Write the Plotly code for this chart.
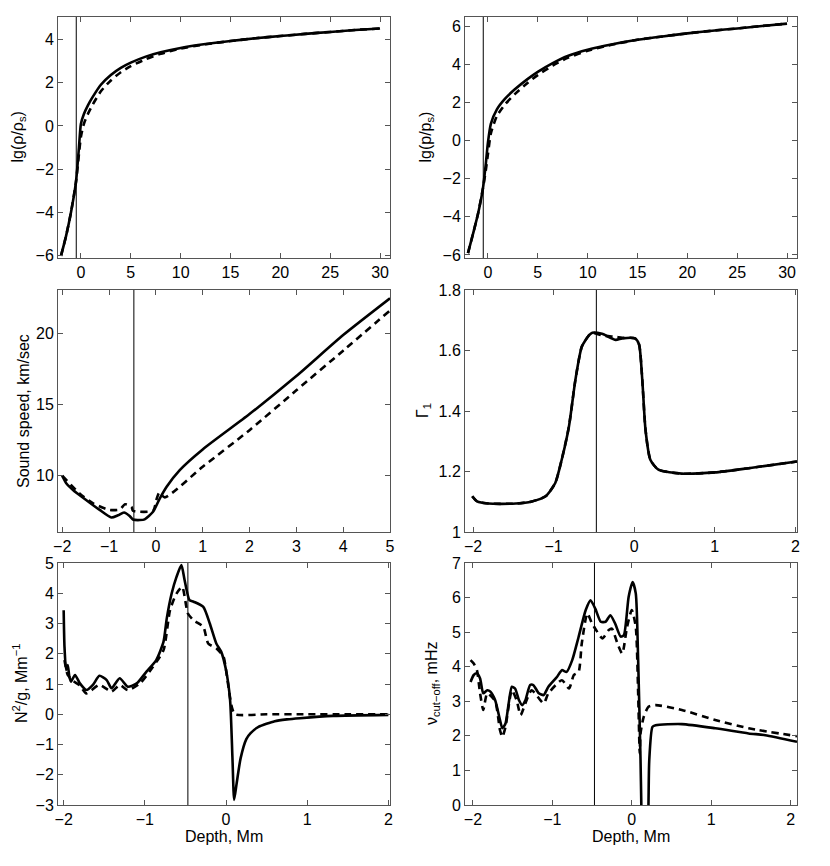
import plotly.graph_objects as go

# depth of the marker line (Mm)
DEPTH_MARK = -0.47

# --- panel 1: lg(rho/rho_s) vs depth ---
rho_x = [-2.0, -1.5, -1.0, -0.5, -0.2, 0.0, 0.3, 0.7, 1.2, 2.0, 3.0, 4.0, 5.0, 6.5, 8, 10, 12.5, 15, 17.5, 20, 22.5, 25, 27.5, 30]
rho_solid = [-6.0, -5.1, -4.0, -2.6, -1.0, 0.1, 0.55, 0.95, 1.35, 1.9, 2.35, 2.68, 2.92, 3.2, 3.4, 3.6, 3.78, 3.92, 4.05, 4.15, 4.25, 4.34, 4.43, 4.5]
rho_dash = [-6.0, -5.1, -4.0, -2.6, -1.3, -0.5, 0.1, 0.55, 1.0, 1.6, 2.1, 2.48, 2.76, 3.08, 3.33, 3.57, 3.77, 3.92, 4.05, 4.15, 4.25, 4.34, 4.43, 4.5]

# --- panel 2: lg(p/p_s) vs depth ---
p_x = [-2.0, -1.5, -1.0, -0.5, -0.2, 0.0, 0.3, 0.9, 1.7, 2.7, 4.0, 5.0, 6.5, 8, 10, 12.5, 15, 17.5, 20, 22.5, 25, 27.5, 30]
p_solid = [-5.9, -4.9, -3.85, -2.5, -1.15, -0.1, 0.9, 1.65, 2.2, 2.7, 3.25, 3.62, 4.08, 4.45, 4.78, 5.07, 5.3, 5.48, 5.64, 5.78, 5.9, 6.03, 6.15]
p_dash = [-5.9, -4.9, -3.85, -2.5, -1.5, -0.7, 0.4, 1.3, 1.9, 2.45, 3.05, 3.45, 3.95, 4.35, 4.73, 5.05, 5.3, 5.48, 5.64, 5.78, 5.9, 6.03, 6.15]

# --- panel 3: sound speed, km/sec ---
c_x_solid = [-2.0, -1.91, -1.77, -1.49, -1.2, -0.95, -0.81, -0.68, -0.56, -0.49, -0.34, -0.24, -0.06, 0.085, 0.23, 0.51, 1.0, 2.0, 3.0, 4.0, 5.0]
c_solid = [10.0, 9.45, 9.0, 8.3, 7.6, 7.07, 7.22, 7.42, 7.17, 6.93, 6.89, 6.94, 7.47, 8.41, 9.23, 10.4, 11.85, 14.33, 17.0, 19.88, 22.46]
c_x_dash = [-2.0, -1.63, -1.34, -0.99, -0.77, -0.66, -0.52, -0.49, -0.06, 0.01, 0.07, 0.19, 1.0, 2.0, 3.0, 4.0, 5.0]
c_dash = [10.0, 8.76, 8.06, 7.6, 7.63, 8.0, 7.82, 7.54, 7.54, 8.3, 8.8, 8.48, 10.63, 13.2, 16.0, 18.78, 21.6]

# --- panel 4: Gamma_1 ---
g_x = [-2.01, -1.95, -1.81, -1.47, -1.27, -1.1, -0.98, -0.9, -0.81, -0.73, -0.65, -0.56, -0.52, -0.4, -0.23, -0.15, 0.01, 0.06, 0.1, 0.14, 0.2, 0.3, 0.59, 1.0, 1.42, 2.02]
g_solid = [1.118, 1.101, 1.094, 1.094, 1.101, 1.118, 1.162, 1.239, 1.349, 1.503, 1.613, 1.651, 1.659, 1.655, 1.635, 1.64, 1.64, 1.62, 1.503, 1.338, 1.239, 1.206, 1.193, 1.197, 1.211, 1.233]
g_dash = [1.118, 1.101, 1.094, 1.094, 1.101, 1.118, 1.162, 1.239, 1.349, 1.503, 1.613, 1.651, 1.659, 1.65, 1.645, 1.642, 1.64, 1.62, 1.503, 1.338, 1.239, 1.206, 1.193, 1.197, 1.211, 1.233]

# --- panel 5: N^2/g ---
n_x_solid = [-2.0, -1.99, -1.97, -1.95, -1.93, -1.91, -1.86, -1.8, -1.72, -1.64, -1.56, -1.47, -1.41, -1.31, -1.21, -1.1, -0.98, -0.86, -0.77, -0.73, -0.67, -0.61, -0.55, -0.51, -0.45, -0.4, -0.28, -0.2, -0.12, -0.06, 0.0, 0.05, 0.08, 0.1, 0.13, 0.18, 0.25, 0.3, 0.4, 0.6, 0.75, 0.91, 1.32, 2.0]
n_solid = [3.44, 2.23, 1.46, 1.63, 1.24, 1.08, 1.3, 1.02, 0.8, 0.97, 1.27, 1.13, 0.86, 1.19, 0.91, 1.02, 1.41, 1.79, 2.4, 3.17, 3.99, 4.54, 4.93, 4.43, 3.77, 3.72, 3.55, 3.0, 2.34, 2.07, 1.46, 0.47, -1.51, -2.83, -2.3, -1.45, -0.82, -0.63, -0.42, -0.23, -0.17, -0.13, -0.055, -0.02]
n_x_dash = [-1.99, -1.95, -1.88, -1.8, -1.72, -1.56, -1.41, -1.31, -1.21, -1.06, -0.9, -0.77, -0.69, -0.61, -0.54, -0.47, -0.4, -0.28, -0.22, -0.12, -0.03, 0.0, 0.07, 0.11, 0.5, 1.0, 1.5, 2.0]
n_dash = [1.79, 1.3, 1.1, 0.95, 0.69, 0.97, 0.75, 0.97, 0.8, 1.02, 1.57, 2.12, 3.44, 3.99, 4.21, 3.33, 3.11, 2.89, 2.34, 2.18, 1.9, 1.46, 0.25, 0.0, 0.0, 0.0, 0.0, 0.0]

# --- panel 6: cut-off frequency, mHz ---
v_x_solid = [-2.03, -1.99, -1.95, -1.91, -1.87, -1.82, -1.78, -1.72, -1.66, -1.63, -1.59, -1.55, -1.51, -1.47, -1.42, -1.38, -1.34, -1.28, -1.24, -1.17, -1.11, -1.05, -0.94, -0.88, -0.82, -0.75, -0.67, -0.58, -0.52, -0.46, -0.39, -0.33, -0.27, -0.21, -0.14, -0.1, -0.04, 0.01, 0.05, 0.08, 0.11, 0.12, 0.13, 0.2, 0.21, 0.22, 0.26, 0.3, 0.63, 1.05, 1.47, 1.68, 2.08]
v_solid = [3.56, 3.76, 3.81, 3.66, 3.23, 3.32, 3.28, 3.03, 2.46, 2.22, 2.36, 2.94, 3.42, 3.37, 3.03, 2.89, 3.03, 3.47, 3.47, 3.23, 3.18, 3.42, 3.71, 3.9, 3.85, 4.19, 4.86, 5.64, 5.92, 5.68, 5.3, 5.3, 5.49, 5.25, 4.87, 4.91, 6.02, 6.45, 6.12, 4.19, 1.3, 0.0, -1.0, -1.0, 0.0, 1.3, 2.26, 2.31, 2.34, 2.22, 2.07, 2.02, 1.83]
v_x_dash = [-2.03, -1.99, -1.95, -1.91, -1.87, -1.82, -1.72, -1.66, -1.63, -1.59, -1.51, -1.45, -1.4, -1.34, -1.26, -1.11, -1.05, -0.88, -0.79, -0.73, -0.67, -0.63, -0.56, -0.5, -0.46, -0.37, -0.29, -0.25, -0.18, -0.12, -0.06, 0.0, 0.05, 0.08, 0.1, 0.11, 0.15, 0.21, 0.3, 0.63, 1.05, 1.47, 2.08]
v_dash = [4.19, 4.09, 3.9, 3.23, 2.75, 3.23, 3.0, 2.17, 1.97, 2.26, 3.32, 3.03, 2.6, 2.94, 3.32, 2.94, 3.23, 3.61, 3.37, 3.76, 3.85, 4.67, 5.54, 5.25, 5.1, 4.82, 5.06, 5.1, 4.67, 4.38, 5.15, 5.64, 5.15, 3.23, 1.49, 2.07, 2.55, 2.84, 2.89, 2.75, 2.46, 2.22, 1.99]

FONT = "Liberation Sans, Arial, Helvetica, sans-serif"
PAGE_OFF = 8          # the page body margin pushes the plot 8px right and down
W, H = 830 - PAGE_OFF, 866 - PAGE_OFF
LINE_W = 2.6

# pixel boxes of each panel, in page pixels
cols = [(58, 390), (465, 797)]
rows = [(17, 258), (290, 532), (563, 805)]


def px_x(v):
    return (v - PAGE_OFF) / W


def px_y(v):
    return 1 - (v - PAGE_OFF) / H


panels = [
    dict(x=[(rho_x, rho_solid), (rho_x, rho_dash)], xr=[-2.3, 31], yr=[-6.1, 5.03],
         xt=[0, 5, 10, 15, 20, 25, 30], yt=[-6, -4, -2, 0, 2, 4], ytitle="lg(ρ/ρ<sub>s</sub>)", tx=18, xtitle=None),
    dict(x=[(p_x, p_solid), (p_x, p_dash)], xr=[-2.3, 31], yr=[-6.16, 6.5],
         xt=[0, 5, 10, 15, 20, 25, 30], yt=[-6, -4, -2, 0, 2, 4, 6], ytitle="lg(p/p<sub>s</sub>)", tx=426, xtitle=None),
    dict(x=[(c_x_solid, c_solid), (c_x_dash, c_dash)], xr=[-2.09, 5], yr=[6.05, 23.04],
         xt=[-2, -1, 0, 1, 2, 3, 4, 5], yt=[10, 15, 20], ytitle="Sound speed, km/sec", tx=23, xtitle=None),
    dict(x=[(g_x, g_solid), (g_x, g_dash)], xr=[-2.1, 2.02], yr=[1.0, 1.8],
         xt=[-2, -1, 0, 1, 2], yt=[1, 1.2, 1.4, 1.6, 1.8], ytitle="Γ<sub>1</sub>", tx=423, xtitle=None),
    dict(x=[(n_x_solid, n_solid), (n_x_dash, n_dash)], xr=[-2.07, 2.02], yr=[-3, 5],
         xt=[-2, -1, 0, 1, 2], yt=[-3, -2, -1, 0, 1, 2, 3, 4, 5], ytitle="N<sup>2</sup>/g, Mm<sup>−1</sup>", tx=20, xtitle="Depth, Mm"),
    dict(x=[(v_x_solid, v_solid), (v_x_dash, v_dash)], xr=[-2.1, 2.08], yr=[0, 7],
         xt=[-2, -1, 0, 1, 2], yt=[0, 1, 2, 3, 4, 5, 6, 7], ytitle="ν<sub>cut−off</sub>, mHz", tx=432, xtitle="Depth, Mm"),
]

fig = go.Figure()
layout = {}
notes = []
for i, p in enumerate(panels):
    n = i + 1
    sfx = "" if n == 1 else str(n)
    left, right = cols[i % 2]
    top, bottom = rows[i // 2]
    (xs, ys), (xd, yd) = p["x"]
    fig.add_trace(go.Scatter(x=xs, y=ys, mode="lines", xaxis="x" + sfx, yaxis="y" + sfx,
                             line=dict(color="black", width=LINE_W, shape="spline", smoothing=0.6),
                             showlegend=False, hoverinfo="skip"))
    fig.add_trace(go.Scatter(x=xd, y=yd, mode="lines", xaxis="x" + sfx, yaxis="y" + sfx,
                             line=dict(color="black", width=LINE_W, dash="7px,5px", shape="spline", smoothing=0.6),
                             showlegend=False, hoverinfo="skip"))
    ax = dict(showline=True, mirror="ticks", linecolor="#555555", linewidth=1, ticks="inside",
              ticklen=5, tickcolor="#555555", showgrid=False, zeroline=False, automargin=False,
              tickfont=dict(family=FONT, size=16, color="black"))
    layout["xaxis" + sfx] = dict(ax, domain=[px_x(left), px_x(right)], range=p["xr"], tickvals=p["xt"],
                                 anchor="y" + sfx)
    layout["yaxis" + sfx] = dict(ax, domain=[px_y(bottom), px_y(top)], range=p["yr"], tickvals=p["yt"],
                                 anchor="x" + sfx)
    fig.add_shape(type="line", xref="x" + sfx, yref="y" + sfx + " domain", x0=DEPTH_MARK, x1=DEPTH_MARK,
                  y0=0, y1=1, line=dict(color="black", width=1))
    notes.append(dict(text=p["ytitle"], xref="paper", yref="paper", x=px_x(p["tx"]),
                      y=px_y((top + bottom) / 2), textangle=-90, showarrow=False,
                      xanchor="center", yanchor="middle", font=dict(family=FONT, size=16, color="black")))
    if p["xtitle"]:
        notes.append(dict(text=p["xtitle"], xref="paper", yref="paper", x=px_x((left + right) / 2),
                          y=px_y(836), showarrow=False, xanchor="center", yanchor="middle",
                          font=dict(family=FONT, size=16, color="black")))

fig.update_layout(template="none", width=W, height=H, margin=dict(l=0, r=0, t=0, b=0, pad=0),
                  plot_bgcolor="white", paper_bgcolor="white", annotations=notes,
                  font=dict(family=FONT, size=16, color="black"), **layout)

fig.write_html("out.html")
